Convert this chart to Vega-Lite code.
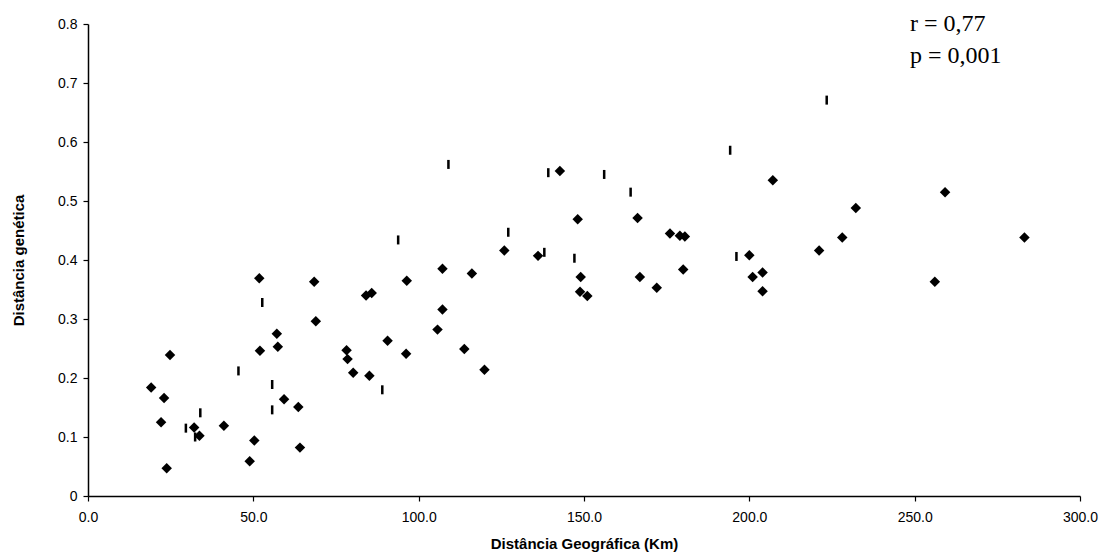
{
  "$schema": "https://vega.github.io/schema/vega-lite/v6.json",
  "width": 992,
  "height": 472,
  "autosize": {"type": "none"},
  "padding": {"left": 88, "top": 24, "right": 28, "bottom": 60},
  "background": "white",
  "config": {
    "view": {"stroke": null},
    "axis": {
      "grid": false,
      "domainColor": "black",
      "domainWidth": 1.5,
      "tickColor": "black",
      "tickWidth": 1.2,
      "tickSize": 5,
      "labelFont": "Liberation Sans",
      "labelFontSize": 14,
      "labelColor": "black",
      "labelFlush": false,
      "labelOverlap": false,
      "titleFont": "Liberation Sans",
      "titleFontSize": 15,
      "titleFontWeight": "bold",
      "titleColor": "black"
    }
  },
  "datasets": {
    "pts": [
      {"x": 19.1, "y": 0.184, "s": "a"},
      {"x": 24.8, "y": 0.239, "s": "a"},
      {"x": 23.0, "y": 0.166, "s": "a"},
      {"x": 22.1, "y": 0.125, "s": "a"},
      {"x": 23.8, "y": 0.047, "s": "a"},
      {"x": 32.1, "y": 0.116, "s": "a"},
      {"x": 33.7, "y": 0.102, "s": "a"},
      {"x": 41.1, "y": 0.119, "s": "a"},
      {"x": 48.9, "y": 0.059, "s": "a"},
      {"x": 50.3, "y": 0.094, "s": "a"},
      {"x": 51.8, "y": 0.369, "s": "a"},
      {"x": 52.0, "y": 0.246, "s": "a"},
      {"x": 57.1, "y": 0.275, "s": "a"},
      {"x": 57.4, "y": 0.253, "s": "a"},
      {"x": 59.3, "y": 0.164, "s": "a"},
      {"x": 63.6, "y": 0.151, "s": "a"},
      {"x": 64.1, "y": 0.082, "s": "a"},
      {"x": 68.4, "y": 0.363, "s": "a"},
      {"x": 68.9, "y": 0.296, "s": "a"},
      {"x": 78.2, "y": 0.247, "s": "a"},
      {"x": 78.5, "y": 0.232, "s": "a"},
      {"x": 80.2, "y": 0.209, "s": "a"},
      {"x": 84.1, "y": 0.340, "s": "a"},
      {"x": 85.8, "y": 0.344, "s": "a"},
      {"x": 85.1, "y": 0.204, "s": "a"},
      {"x": 90.6, "y": 0.263, "s": "a"},
      {"x": 96.2, "y": 0.241, "s": "a"},
      {"x": 96.4, "y": 0.365, "s": "a"},
      {"x": 107.2, "y": 0.385, "s": "a"},
      {"x": 107.2, "y": 0.316, "s": "a"},
      {"x": 105.7, "y": 0.282, "s": "a"},
      {"x": 113.8, "y": 0.249, "s": "a"},
      {"x": 116.1, "y": 0.377, "s": "a"},
      {"x": 119.9, "y": 0.214, "s": "a"},
      {"x": 125.9, "y": 0.416, "s": "a"},
      {"x": 136.1, "y": 0.407, "s": "a"},
      {"x": 142.7, "y": 0.551, "s": "a"},
      {"x": 148.1, "y": 0.469, "s": "a"},
      {"x": 149.0, "y": 0.371, "s": "a"},
      {"x": 148.8, "y": 0.346, "s": "a"},
      {"x": 151.0, "y": 0.339, "s": "a"},
      {"x": 166.2, "y": 0.471, "s": "a"},
      {"x": 166.9, "y": 0.371, "s": "a"},
      {"x": 172.0, "y": 0.353, "s": "a"},
      {"x": 176.0, "y": 0.445, "s": "a"},
      {"x": 179.0, "y": 0.441, "s": "a"},
      {"x": 180.5, "y": 0.440, "s": "a"},
      {"x": 180.0, "y": 0.384, "s": "a"},
      {"x": 200.0, "y": 0.408, "s": "a"},
      {"x": 201.0, "y": 0.371, "s": "a"},
      {"x": 204.0, "y": 0.379, "s": "a"},
      {"x": 204.0, "y": 0.347, "s": "a"},
      {"x": 207.1, "y": 0.535, "s": "a"},
      {"x": 221.1, "y": 0.416, "s": "a"},
      {"x": 228.1, "y": 0.438, "s": "a"},
      {"x": 232.2, "y": 0.488, "s": "a"},
      {"x": 259.2, "y": 0.515, "s": "a"},
      {"x": 283.2, "y": 0.438, "s": "a"},
      {"x": 256.1, "y": 0.363, "s": "a"},
      {"x": 29.6, "y": 0.115, "s": "b"},
      {"x": 32.4, "y": 0.100, "s": "b"},
      {"x": 33.96, "y": 0.141, "s": "b"},
      {"x": 45.5, "y": 0.212, "s": "b"},
      {"x": 52.7, "y": 0.328, "s": "b"},
      {"x": 55.7, "y": 0.189, "s": "b"},
      {"x": 55.7, "y": 0.146, "s": "b"},
      {"x": 89.0, "y": 0.180, "s": "b"},
      {"x": 93.8, "y": 0.434, "s": "b"},
      {"x": 109.0, "y": 0.562, "s": "b"},
      {"x": 127.1, "y": 0.447, "s": "b"},
      {"x": 138.0, "y": 0.413, "s": "b"},
      {"x": 139.2, "y": 0.548, "s": "b"},
      {"x": 147.1, "y": 0.403, "s": "b"},
      {"x": 156.1, "y": 0.545, "s": "b"},
      {"x": 164.1, "y": 0.515, "s": "b"},
      {"x": 194.2, "y": 0.586, "s": "b"},
      {"x": 196.1, "y": 0.406, "s": "b"},
      {"x": 223.4, "y": 0.671, "s": "b"}
    ],
    "notes": [
      {"x": 248.6, "y": 0.8, "label": "r = 0,77"},
      {"x": 248.6, "y": 0.746, "label": "p = 0,001"}
    ]
  },
  "layer": [
    {
      "data": {"name": "pts"},
      "mark": {"type": "point", "filled": true, "opacity": 1, "size": 110, "color": "black", "strokeWidth": 0},
      "encoding": {
        "x": {
          "field": "x", "type": "quantitative",
          "scale": {"domain": [0, 300], "nice": false, "zero": true},
          "axis": {"values": [0, 50, 100, 150, 200, 250, 300], "format": ".1f", "title": "Distância Geográfica (Km)", "labelPadding": 9, "titlePadding": 12}
        },
        "y": {
          "field": "y", "type": "quantitative",
          "scale": {"domain": [0, 0.8], "nice": false},
          "axis": {"values": [0, 0.1, 0.2, 0.3, 0.4, 0.5, 0.6, 0.7, 0.8], "labelExpr": "datum.value == 0 ? '0' : format(datum.value, '.1f')", "title": "Distância genética", "labelPadding": 6, "titlePadding": 31}
        },
        "shape": {
          "field": "s", "type": "nominal",
          "scale": {"domain": ["a", "b"], "range": ["diamond", "M-0.28,-1L0.28,-1L0.28,1L-0.28,1Z"]},
          "legend": null
        },
        "size": {
          "field": "s", "type": "nominal",
          "scale": {"domain": ["a", "b"], "range": [110, 81]},
          "legend": null
        }
      }
    },
    {
      "data": {"name": "notes"},
      "mark": {"type": "text", "font": "Liberation Serif", "fontSize": 24, "align": "left", "baseline": "middle", "color": "black"},
      "encoding": {
        "x": {"field": "x", "type": "quantitative"},
        "y": {"field": "y", "type": "quantitative"},
        "text": {"field": "label"}
      }
    }
  ]
}
